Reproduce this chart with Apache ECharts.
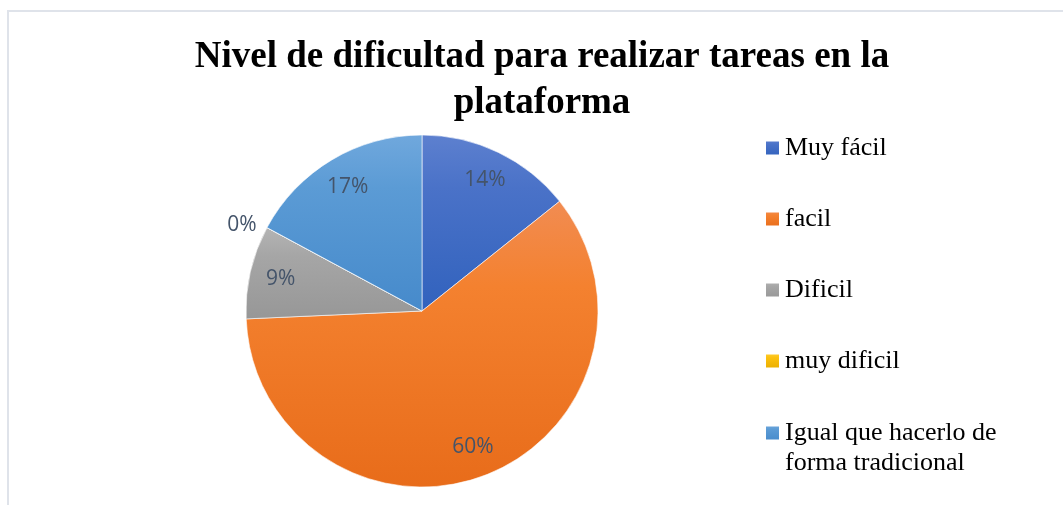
<!DOCTYPE html>
<html>
<head>
<meta charset="utf-8">
<script src="https://cdn.jsdelivr.net/npm/echarts@6/dist/echarts.min.js"></script>
<style>
  html, body { margin: 0; padding: 0; background: #fff; }
  #chart { width: 1063px; height: 505px; }
</style>
</head>
<body>
<div id="chart"></div>
<script>
 // respuestas (35 encuestados)
 let categorias = ['Muy fácil', 'facil', 'Dificil', 'muy dificil', 'Igual que hacerlo de forma tradicional'];
 let respuestas = [5, 21, 3, 0, 6];
 // degradado arriba -> medio -> abajo de cada sector
 let coloresArriba = ['#5d80cf', '#f18c52', '#b4b4b4', '#ffcf3a', '#70a8dd'];
 let coloresMedio = ['#4a72c8', '#f4812f', '#a6a6a6', '#fcc10f', '#5b9bd5'];
 let coloresAbajo = ['#3162bd', '#e86c1a', '#979797', '#e8ad00', '#468acb'];

 let myPie = echarts.init(document.getElementById('chart'));

 function degradado(i) {
     return new echarts.graphic.LinearGradient(0, 0, 0, 1, [
         { offset: 0, color: coloresArriba[i] },
         { offset: 0.3, color: coloresMedio[i] },
         { offset: 1, color: coloresAbajo[i] }
     ]);
 }

 let pieData = categorias.map(function (name, i) {
     return { name: name, value: respuestas[i], itemStyle: { color: degradado(i) } };
 });

 // anillo transparente solo para colocar las etiquetas a ~0.8 del radio
 let labelData = categorias.map(function (name, i) {
     let item = { name: name, value: respuestas[i] };
     if (respuestas[i] === 0) {
         item.label = { position: 'outside' };
         item.labelLine = { show: false, length: 6, length2: 0 };
     }
     return item;
 });

 let legendText = {
     fontFamily: 'Liberation Serif',
     fontSize: 26,
     color: '#000',
     lineHeight: 30
 };

 let option = {
     animation: false,
     graphic: [{
         type: 'rect',
         shape: { x: 8, y: 11, width: 1100, height: 600 },
         style: { fill: 'none', stroke: '#dfe3ea', lineWidth: 2 },
         silent: true
     }],
     title: {
         text: 'Nivel de dificultad para realizar tareas en la\nplataforma',
         left: 537,
         top: 29,
         textAlign: 'center',
         textStyle: {
             fontFamily: 'Liberation Serif',
             fontWeight: 'bold',
             fontSize: 37,
             lineHeight: 46,
             color: '#000'
         }
     },
     legend: [{
         orient: 'vertical',
         left: 759,
         top: 128,
         itemWidth: 15,
         itemHeight: 15,
         itemGap: 41,
         icon: 'rect',
         selectedMode: false,
         data: categorias.slice(0, 4),
         textStyle: legendText
     }, {
         orient: 'vertical',
         left: 759,
         top: 383,
         itemWidth: 15,
         itemHeight: 15,
         icon: 'rect',
         selectedMode: false,
         data: categorias.slice(4),
         formatter: function () {
             return '\nIgual que hacerlo de\nforma tradicional';
         },
         textStyle: legendText
     }],
     series: [{
         type: 'pie',
         center: [422, 311],
         radius: 176,
         startAngle: 90,
         clockwise: true,
         silent: true,
         label: { show: false },
         labelLine: { show: false },
         itemStyle: { borderColor: '#ffffff', borderWidth: 0.6 },
         data: pieData
     }, {
         type: 'pie',
         center: [422, 311],
         radius: [108, 176],
         startAngle: 90,
         clockwise: true,
         silent: true,
         avoidLabelOverlap: false,
         percentPrecision: 0,
         itemStyle: { color: 'rgba(0,0,0,0)' },
         label: {
             show: true,
             position: 'inside',
             formatter: '{d}%',
             fontFamily: 'Open Sans',
             fontSize: 21,
             color: '#44546a'
         },
         labelLine: { show: false },
         data: labelData
     }]
 };

 myPie.setOption(option);
 window.onresize = function () {
     myPie.resize();
 };
</script>
</body>
</html>
